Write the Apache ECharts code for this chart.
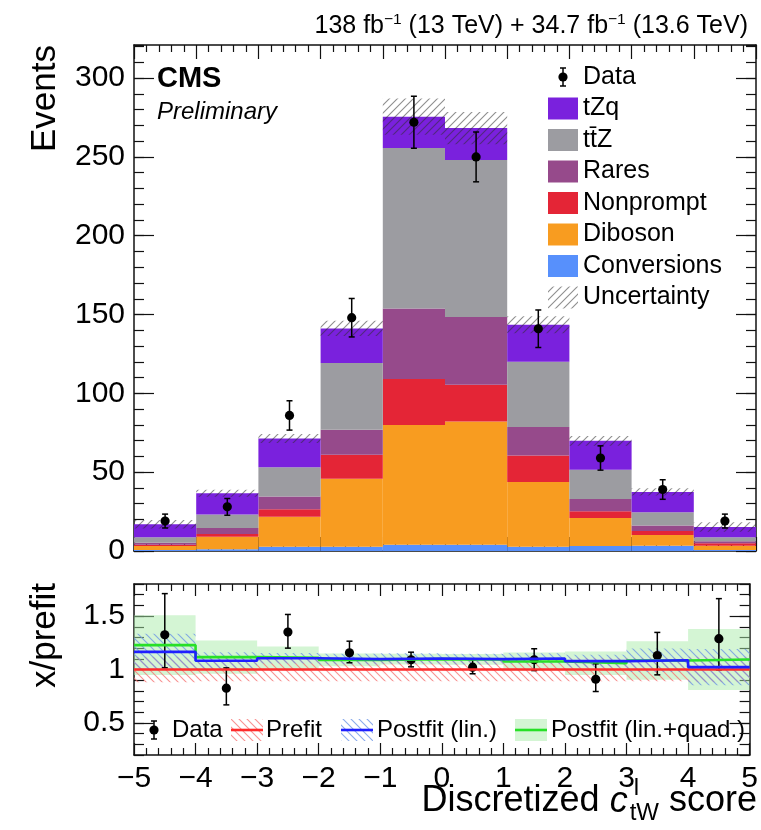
<!DOCTYPE html>
<html>
<head>
<meta charset="utf-8">
<script src="https://cdn.jsdelivr.net/npm/echarts@6/dist/echarts.min.js"></script>
<style>
  html, body { margin: 0; padding: 0; background: #fff; }
  #chart { width: 761px; height: 830px; }
</style>
</head>
<body>
<div id="chart"></div>
<script>
// ---- binning and tick labels ----
const binEdges = [-5, -4, -3, -2, -1, 0, 1, 2, 3, 4, 5];
const xTickLabels = ['\u22125', '\u22124', '\u22123', '\u22122', '\u22121', '0', '1', '2', '3', '4', '5'];
const eventTicks = [0, 50, 100, 150, 200, 250, 300];
const ratioTicks = [0.5, 1, 1.5];

// ---- stacked predictions (events per bin) ----
const conversions = [0.6, 1.1, 2.7, 2.7, 4.0, 4.0, 2.7, 3.2, 3.4, 0.6];
const diboson     = [2.6, 8.0, 19.1, 43.2, 76.0, 78.2, 41.1, 17.8, 6.8, 2.8];
const nonprompt   = [0.8, 1.7, 4.7, 15.1, 29.1, 23.3, 16.8, 4.2, 2.5, 1.5];
const rares       = [1.3, 3.8, 8.0, 15.9, 44.8, 43.0, 18.0, 7.8, 3.4, 1.3];
const ttZ         = [3.4, 8.5, 18.7, 42.3, 101.7, 99.5, 41.5, 18.5, 8.5, 2.5];
const tZq         = [8.3, 13.5, 18.2, 22.0, 19.9, 20.3, 23.5, 18.4, 12.9, 6.5];
const totalUnc    = [2.7, 2.2, 2.9, 4.8, 11.5, 10.2, 5.4, 3.1, 2.3, 3.0];

// ---- observed data ----
const dataCounts = [19, 28, 86, 148, 272, 250, 141, 59, 39, 19];
const dataErr    = [4.4, 5.3, 9.3, 12.2, 16.5, 15.8, 11.9, 7.7, 6.2, 4.4];

// ---- ratio panel ----
const ratioData      = [1.325, 0.825, 1.35, 1.156, 1.091, 1.022, 1.091, 0.909, 1.131, 1.288];
const ratioErrUp     = [0.385, 0.19, 0.165, 0.109, 0.071, 0.069, 0.103, 0.144, 0.216, 0.375];
const ratioErrDown   = [0.309, 0.156, 0.15, 0.093, 0.066, 0.062, 0.101, 0.115, 0.181, 0.291];
const prefitRatio    = [1, 1, 1, 1, 1, 1, 1, 1, 1, 1];
const prefitUnc      = [0.12, 0.11, 0.11, 0.11, 0.11, 0.11, 0.11, 0.11, 0.11, 0.12];
const postfitLin     = [1.165, 1.082, 1.105, 1.097, 1.103, 1.097, 1.103, 1.078, 1.087, 1.022];
const postfitLinUnc  = [0.17, 0.08, 0.05, 0.05, 0.05, 0.05, 0.05, 0.06, 0.11, 0.17];
const postfitQuad    = [1.228, 1.116, 1.11, 1.09, 1.097, 1.094, 1.075, 1.059, 1.084, 1.094];
const postfitQuadUnc = [0.28, 0.156, 0.106, 0.06, 0.05, 0.05, 0.085, 0.11, 0.18, 0.285];

const FONT = '"Liberation Sans", Arial, Helvetica, sans-serif';

// ---- helpers ----
function hatch(color, forward, step, lw) {
  const c = document.createElement('canvas');
  c.width = step; c.height = step;
  const g = c.getContext('2d');
  g.strokeStyle = color; g.lineWidth = lw;
  g.beginPath();
  if (forward) {
    g.moveTo(0, step); g.lineTo(step, 0);
    g.moveTo(-2, 2); g.lineTo(2, -2);
    g.moveTo(step - 2, step + 2); g.lineTo(step + 2, step - 2);
  } else {
    g.moveTo(0, 0); g.lineTo(step, step);
    g.moveTo(-2, step - 2); g.lineTo(2, step + 2);
    g.moveTo(step - 2, -2); g.lineTo(step + 2, 2);
  }
  g.stroke();
  return { type: 'pattern', image: c, repeat: 'repeat' };
}
const uncHatch = hatch('rgba(50,50,50,0.55)', true, 8, 1.1);
const redHatch = hatch('rgba(245,110,110,0.75)', false, 8, 1.1);
const blueHatch = hatch('rgba(110,150,230,0.8)', false, 8, 1.1);
const greenFill = 'rgba(170,235,170,0.5)';

const mctx = document.createElement('canvas').getContext('2d');
function tw(str, size, style, weight) {
  mctx.font = (style || 'normal') + ' ' + (weight || 'normal') + ' ' + size + 'px ' + FONT;
  return mctx.measureText(str).width;
}
function txt(x, y, s, size, opt) {
  opt = opt || {};
  return {
    type: 'text', x: x, y: y, rotation: opt.rotation || 0, silent: true,
    style: {
      text: s, fontSize: size, fontFamily: FONT, fill: '#000',
      fontStyle: opt.italic ? 'italic' : 'normal',
      fontWeight: opt.bold ? 'bold' : 'normal',
      align: opt.align || 'left', verticalAlign: 'middle'
    }
  };
}
// middle line for a given baseline
const mid = (base, size) => base - 0.3465 * size;

function rectItem(params, api, fill) {
  const p0 = api.coord([api.value(0), api.value(2)]);
  const p1 = api.coord([api.value(1), api.value(3)]);
  return {
    type: 'rect',
    shape: { x: p0[0], y: p1[1], width: p1[0] - p0[0], height: p0[1] - p1[1] },
    style: { fill: fill }
  };
}
function errItem(params, api) {
  const x = api.value(0), y = api.value(1);
  const c = api.coord([x, y]);
  const lo = api.coord([x, y - api.value(2)]);
  const hi = api.coord([x, y + api.value(3)]);
  const st = { stroke: '#000', lineWidth: 1.5 };
  return {
    type: 'group', children: [
      { type: 'line', shape: { x1: c[0], y1: lo[1], x2: c[0], y2: hi[1] }, style: st },
      { type: 'line', shape: { x1: c[0] - 3, y1: lo[1], x2: c[0] + 3, y2: lo[1] }, style: st },
      { type: 'line', shape: { x1: c[0] - 3, y1: hi[1], x2: c[0] + 3, y2: hi[1] }, style: st },
      { type: 'circle', shape: { cx: c[0], cy: c[1], r: 4.6 }, style: { fill: '#000' } }
    ]
  };
}
const binCenters = binEdges.slice(0, -1).map((e, i) => (e + binEdges[i + 1]) / 2);

// ---- axes ----
function xAx(grid, pos, labels, major, minor) {
  return {
    type: 'value', gridIndex: grid, position: pos, min: -5, max: 5, interval: 1,
    axisLine: { show: true, onZero: false, lineStyle: { color: '#111', width: 1.5 } },
    axisTick: { show: true, inside: true, length: major, lineStyle: { color: '#111', width: 1.2 } },
    minorTick: { show: true, splitNumber: 5, length: minor, lineStyle: { color: '#111', width: 1.2 } },
    splitLine: { show: false }, minorSplitLine: { show: false },
    axisLabel: {
      show: labels, margin: 9, fontSize: 30, fontFamily: FONT, color: '#000',
      formatter: v => xTickLabels[Math.round(v + 5)]
    }
  };
}
function yMajor(grid, pos, min, max, ticks, labels) {
  return {
    type: 'value', gridIndex: grid, position: pos, min: min, max: max,
    axisLine: { show: true, onZero: false, lineStyle: { color: '#111', width: 1.5 } },
    axisTick: { show: true, inside: true, length: 20, customValues: ticks, lineStyle: { color: '#111', width: 1.2 } },
    splitLine: { show: false },
    axisLabel: { show: labels, customValues: ticks, margin: 9, fontSize: 30, fontFamily: FONT, color: '#000' }
  };
}
function yMinor(grid, pos, min, max, step) {
  return {
    type: 'value', gridIndex: grid, position: pos, min: min, max: max, interval: step,
    axisLine: { show: false, onZero: false },
    axisTick: { show: true, inside: true, length: 10, lineStyle: { color: '#111', width: 1.2 } },
    splitLine: { show: false }, axisLabel: { show: false }
  };
}

// ---- stacked histogram series ----
const procs = [
  { name: 'Conversions', vals: conversions, color: '#5790fc' },
  { name: 'Diboson', vals: diboson, color: '#f89c20' },
  { name: 'Nonprompt', vals: nonprompt, color: '#e42536' },
  { name: 'Rares', vals: rares, color: '#964a8b' },
  { name: 'tt\u0304Z', vals: ttZ, color: '#9c9ca1' },
  { name: 'tZq', vals: tZq, color: '#7a21dd' }
];
const series = [];
let base = binCenters.map(() => 0);
procs.forEach(p => {
  const d = p.vals.map((v, i) => [binEdges[i], binEdges[i + 1], base[i], base[i] + v]);
  base = base.map((b, i) => b + p.vals[i]);
  series.push({
    type: 'custom', name: p.name, xAxisIndex: 0, yAxisIndex: 0, silent: true,
    encode: { x: [0, 1], y: [2, 3] }, data: d,
    renderItem: (pa, api) => rectItem(pa, api, p.color)
  });
});
series.push({
  type: 'custom', name: 'Uncertainty', xAxisIndex: 0, yAxisIndex: 0, silent: true,
  encode: { x: [0, 1], y: [2, 3] },
  data: base.map((t, i) => [binEdges[i], binEdges[i + 1], t - totalUnc[i], t + totalUnc[i]]),
  renderItem: (pa, api) => rectItem(pa, api, uncHatch)
});
series.push({
  type: 'custom', name: 'Data', xAxisIndex: 0, yAxisIndex: 0, silent: true,
  encode: { x: 0, y: 1 },
  data: dataCounts.map((v, i) => [binCenters[i], v, dataErr[i], dataErr[i]]),
  renderItem: errItem
});

// ---- ratio panel series ----
function band(name, center, unc, fill) {
  return {
    type: 'custom', name: name, xAxisIndex: 2, yAxisIndex: 4, silent: true,
    encode: { x: [0, 1], y: [2, 3] },
    data: center.map((c, i) => [binEdges[i], binEdges[i + 1], c - unc[i], c + unc[i]]),
    renderItem: (pa, api) => rectItem(pa, api, fill)
  };
}
function steps(name, vals, color) {
  const pts = [];
  vals.forEach((v, i) => { pts.push([binEdges[i], v]); pts.push([binEdges[i + 1], v]); });
  return {
    type: 'line', name: name, xAxisIndex: 2, yAxisIndex: 4, silent: true,
    data: pts, showSymbol: false, symbol: 'none',
    lineStyle: { color: color, width: 2.6 }
  };
}
series.push(band('Postfit (lin.+quad.) unc', postfitQuad, postfitQuadUnc, greenFill));
series.push(band('Prefit unc', prefitRatio, prefitUnc, redHatch));
series.push(band('Postfit (lin.) unc', postfitLin, postfitLinUnc, blueHatch));
series.push(steps('Prefit', prefitRatio, '#ff2a2a'));
series.push(steps('Postfit (lin.+quad.)', postfitQuad, '#27e027'));
series.push(steps('Postfit (lin.)', postfitLin, '#1f1fff'));
series.push({
  type: 'custom', name: 'Data ratio', xAxisIndex: 2, yAxisIndex: 4, silent: true,
  encode: { x: 0, y: 1 },
  data: ratioData.map((v, i) => [binCenters[i], v, ratioErrDown[i], ratioErrUp[i]]),
  renderItem: errItem
});

// ---- text and legends ----
const g = [];
// axis titles
g.push(txt(45, 45, 'Events', 35, { align: 'right', rotation: Math.PI / 2 }));
g.push(txt(45, 583, 'x/prefit', 35, { align: 'right', rotation: Math.PI / 2 }));

// x-axis title: Discretized c^l_tW score
(function () {
  const S = 36, s = 24, b = 814;
  const w1 = tw('Discretized ', S), wc = tw('c', S, 'italic'), wsub = tw('tW', s), ws = tw(' score', S);
  let x = 757 - (w1 + wc + wsub + ws + 2);
  g.push(txt(x, mid(b, S), 'Discretized ', S)); x += w1;
  g.push(txt(x, mid(b, S), 'c', S, { italic: true })); x += wc + 2;
  g.push(txt(x + 4, mid(b - 17, s), 'l', s));
  g.push(txt(x, mid(b + 8, s), 'tW', s)); x += wsub;
  g.push(txt(x, mid(b, S), ' score', S));
})();

// luminosity header
(function () {
  const S = 25, s = 15.5, b = 35;
  const parts = [['138 fb', S, 0], ['\u22121', s, 10], [' (13 TeV) + 34.7 fb', S, 0], ['\u22121', s, 10], [' (13.6 TeV)', S, 0]];
  const total = parts.reduce((a, p) => a + tw(p[0], p[1]), 0);
  let x = 748 - total;
  parts.forEach(p => { g.push(txt(x, mid(b - p[2], p[1]), p[0], p[1])); x += tw(p[0], p[1]); });
})();

g.push(txt(157, mid(89.5, 29), 'CMS', 29, { bold: true }));
g.push(txt(157, mid(121, 24), 'Preliminary', 24, { italic: true }));

// main legend
(function () {
  const rows = [77, 108.5, 140, 171.5, 203, 234.5, 266, 297.5];
  const tx = 583, bx = 548, bw = 30, bh = 22;
  const st = { stroke: '#000', lineWidth: 1.5 };
  g.push({ type: 'line', shape: { x1: 563, y1: rows[0] - 9, x2: 563, y2: rows[0] + 9 }, style: st });
  g.push({ type: 'line', shape: { x1: 560, y1: rows[0] - 9, x2: 566, y2: rows[0] - 9 }, style: st });
  g.push({ type: 'line', shape: { x1: 560, y1: rows[0] + 9, x2: 566, y2: rows[0] + 9 }, style: st });
  g.push({ type: 'circle', shape: { cx: 563, cy: rows[0], r: 4.6 }, style: { fill: '#000' } });
  g.push(txt(tx, rows[0], 'Data', 25));
  const order = procs.slice().reverse();
  order.forEach((p, k) => {
    const y = rows[k + 1];
    g.push({ type: 'rect', shape: { x: bx, y: y - bh / 2, width: bw, height: bh }, style: { fill: p.color } });
    g.push(txt(tx, y, p.name, 25));
  });
  g.push({ type: 'rect', shape: { x: bx, y: rows[7] - bh / 2, width: bw, height: bh }, style: { fill: uncHatch } });
  g.push(txt(tx, rows[7], 'Uncertainty', 25));
})();

// ratio legend
(function () {
  const y = 730, st = { stroke: '#000', lineWidth: 1.5 };
  g.push({ type: 'line', shape: { x1: 154, y1: y - 9, x2: 154, y2: y + 9 }, style: st });
  g.push({ type: 'line', shape: { x1: 151, y1: y - 9, x2: 157, y2: y - 9 }, style: st });
  g.push({ type: 'line', shape: { x1: 151, y1: y + 9, x2: 157, y2: y + 9 }, style: st });
  g.push({ type: 'circle', shape: { cx: 154, cy: y, r: 4.6 }, style: { fill: '#000' } });
  g.push(txt(172, y, 'Data', 24));
  const entries = [
    { x: 231, fill: redHatch, line: '#ff2a2a', label: 'Prefit', tx: 266 },
    { x: 341, fill: blueHatch, line: '#1f1fff', label: 'Postfit (lin.)', tx: 377 },
    { x: 515, fill: greenFill, line: '#27e027', label: 'Postfit (lin.+quad.)', tx: 551 }
  ];
  entries.forEach(e => {
    g.push({ type: 'rect', shape: { x: e.x, y: y - 11, width: 32, height: 22 }, style: { fill: e.fill } });
    g.push({ type: 'line', shape: { x1: e.x, y1: y, x2: e.x + 32, y2: y }, style: { stroke: e.line, lineWidth: 2.6 } });
    g.push(txt(e.tx, y, e.label, 24));
  });
})();

const chart = echarts.init(document.getElementById('chart'), null, { renderer: 'canvas' });
chart.setOption({
  animation: false,
  backgroundColor: '#fff',
  grid: [
    { left: 134, top: 45, width: 622, height: 506 },
    { left: 134, top: 584, width: 622, height: 171 }
  ],
  xAxis: [
    xAx(0, 'bottom', false, 14, 7),
    xAx(0, 'top', false, 14, 7),
    xAx(1, 'bottom', true, 12, 7),
    xAx(1, 'top', false, 12, 7)
  ],
  yAxis: [
    yMajor(0, 'left', 0, 321, eventTicks, true),
    yMinor(0, 'left', 0, 321, 10),
    yMajor(0, 'right', 0, 321, eventTicks, false),
    yMinor(0, 'right', 0, 321, 10),
    yMajor(1, 'left', 0.2, 1.8, ratioTicks, true),
    yMinor(1, 'left', 0.2, 1.8, 0.1),
    yMajor(1, 'right', 0.2, 1.8, ratioTicks, false),
    yMinor(1, 'right', 0.2, 1.8, 0.1)
  ],
  series: series,
  graphic: g
});
</script>
</body>
</html>
